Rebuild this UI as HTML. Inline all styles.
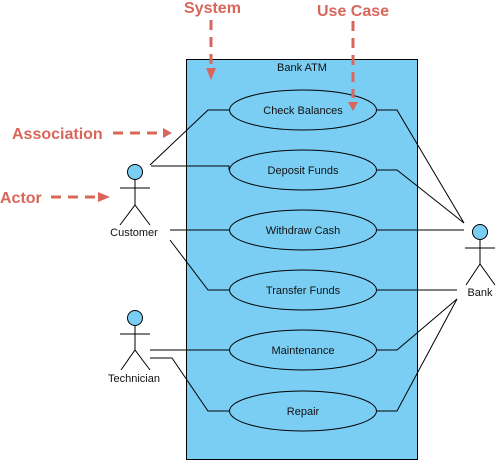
<!DOCTYPE html>
<html><head><meta charset="utf-8"><style>
body{margin:0;background:#fff}
svg{display:block;font-family:"Liberation Sans",sans-serif}
</style></head><body>
<svg width="496" height="461" viewBox="0 0 496 461" xmlns="http://www.w3.org/2000/svg">
<rect x="186.5" y="59.5" width="231" height="400" fill="#7acef4" stroke="#000"/>
<text x="302" y="71" font-size="11" text-anchor="middle" fill="#111">Bank ATM</text>
<g fill="none" stroke="#000" stroke-width="1">
<ellipse cx="303" cy="110" rx="73.5" ry="20"/>
<ellipse cx="303" cy="170" rx="73.5" ry="20"/>
<ellipse cx="303" cy="230" rx="73.5" ry="20"/>
<ellipse cx="303" cy="290" rx="73.5" ry="20"/>
<ellipse cx="303" cy="350" rx="73.5" ry="20"/>
<ellipse cx="303" cy="411" rx="73.5" ry="20"/>
<polyline points="150,165 208,110 229,110"/>
<polyline points="151,166 229,166 229,170"/>
<polyline points="170,230 229,230"/>
<polyline points="170,240 208,290 229,290"/>
<polyline points="150,350 229,350"/>
<polyline points="150,358 172,358 208,411 229,411"/>
<polyline points="377,110 397,110 464,223"/>
<polyline points="377,170 397,170 464,223"/>
<polyline points="377,230 464,230"/>
<polyline points="377,290 457,290"/>
<polyline points="377,350 397,350 457,299"/>
<polyline points="377,411 397,411 457,299"/>
<!-- actors -->
<g>
<line x1="135" y1="180" x2="135" y2="205"/><line x1="120" y1="188" x2="150" y2="188"/>
<polyline points="120,225 135,205 150,225"/>
<line x1="135" y1="326" x2="135" y2="350"/><line x1="120" y1="334" x2="150" y2="334"/>
<polyline points="121,370 135,350 150,370"/>
<line x1="480" y1="240" x2="480" y2="264"/><line x1="465" y1="248" x2="495" y2="248"/>
<polyline points="466,285 480,264 495,285"/>
</g>
</g>
<circle cx="135" cy="172" r="7.5" fill="#7acef4" stroke="#000"/>
<circle cx="135" cy="318" r="7.5" fill="#7acef4" stroke="#000"/>
<circle cx="480" cy="232" r="7.5" fill="#7acef4" stroke="#000"/>
<g font-size="11" text-anchor="middle" fill="#111">
<text x="303" y="114">Check Balances</text>
<text x="303" y="174">Deposit Funds</text>
<text x="303" y="234">Withdraw Cash</text>
<text x="303" y="294">Transfer Funds</text>
<text x="303" y="354">Maintenance</text>
<text x="303" y="415">Repair</text>
<text x="134" y="236">Customer</text>
<text x="134" y="382">Technician</text>
<text x="480" y="296">Bank</text>
</g>
<g fill="#d9665b" font-size="16" font-weight="bold">
<text x="184" y="13">System</text>
<text x="317" y="16">Use Case</text>
<text x="12" y="139">Association</text>
<text x="0" y="203">Actor</text>
</g>
<g stroke="#d9665b" stroke-width="3" stroke-dasharray="10,7" fill="none">
<line x1="211" y1="20" x2="211" y2="70"/>
<line x1="353" y1="21" x2="353" y2="98"/>
<line x1="113" y1="133" x2="165" y2="133"/>
<line x1="51" y1="197" x2="98" y2="197"/>
</g>
<g fill="#d9665b">
<polygon points="206,68 216,68 211,80"/>
<polygon points="348,102 358,102 353,111"/>
<polygon points="163,128 163,138 172,133"/>
<polygon points="98,192 98,202 110,197"/>
</g>
</svg>
</body></html>
